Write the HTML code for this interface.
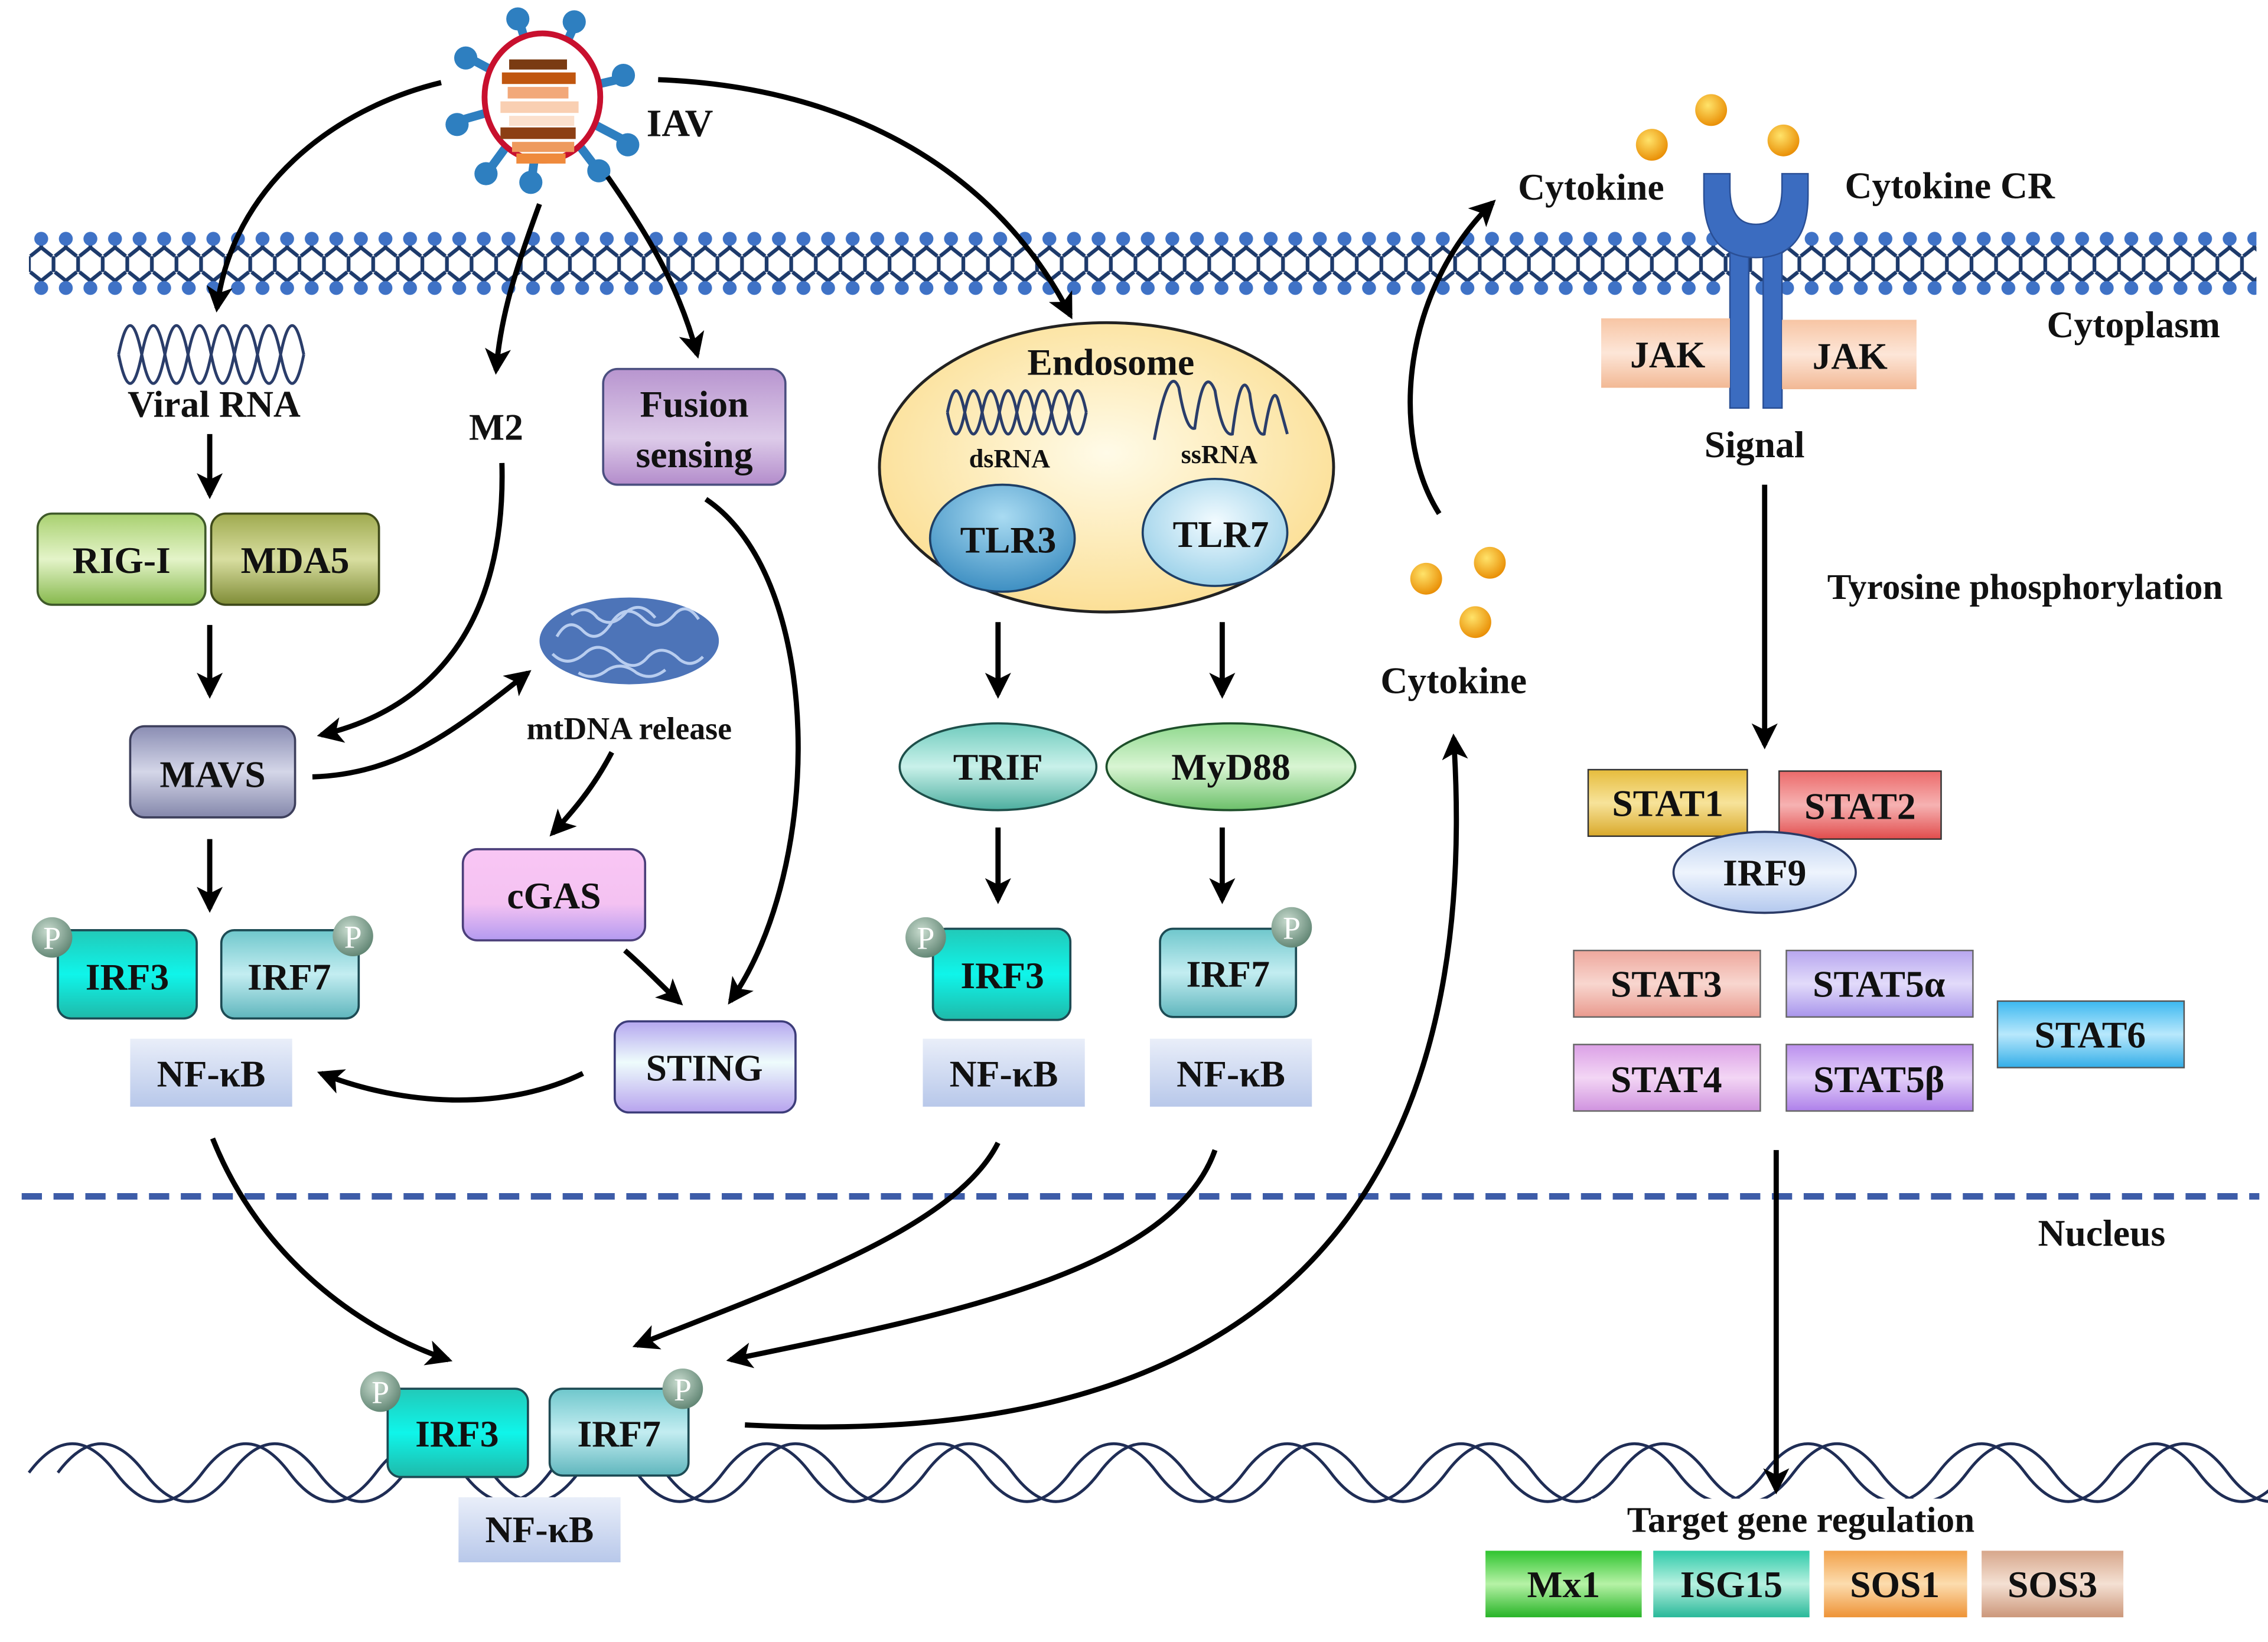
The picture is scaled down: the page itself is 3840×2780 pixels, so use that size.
<!DOCTYPE html>
<html><head><meta charset="utf-8"><style>
html,body{margin:0;padding:0;background:#fff;}
svg{display:block;}
text{font-family:"Liberation Serif",serif;font-weight:bold;fill:#111;text-anchor:middle;}
</style></head><body>
<svg width="3840" height="2780" viewBox="0 0 1568 1135" xmlns="http://www.w3.org/2000/svg">
<defs>
<marker id="ah" viewBox="0 0 12 12" refX="10" refY="6" markerWidth="5" markerHeight="5" orient="auto" markerUnits="strokeWidth">
<path d="M0,0 L12,6 L0,12 L3,6z" fill="#000"/></marker>
<pattern id="mem" x="20" y="158" width="17" height="50" patternUnits="userSpaceOnUse">
<g stroke="#1d3a6b" stroke-width="2.6" fill="none">
<path d="M8.5,8 V13 L1,19 M8.5,13 L16,19"/>
<path d="M8.5,42 V36 L1,30 M8.5,36 L16,30"/>
<path d="M0,19 V30 M17,19 V30"/>
</g>
<circle cx="8.5" cy="7" r="4.8" fill="#3f72c6"/>
<circle cx="8.5" cy="41" r="4.8" fill="#3f72c6"/>
</pattern>
<linearGradient id="gFus" x1="0" y1="0" x2="0" y2="1"><stop offset="0" stop-color="#b895cf"/><stop offset="0.6" stop-color="#ddcbe9"/><stop offset="1" stop-color="#b38ccb"/></linearGradient>
<linearGradient id="gRig" x1="0" y1="0" x2="0" y2="1"><stop offset="0" stop-color="#a8d06f"/><stop offset="0.5" stop-color="#e4f4c9"/><stop offset="1" stop-color="#86b84c"/></linearGradient>
<linearGradient id="gMda" x1="0" y1="0" x2="0" y2="1"><stop offset="0" stop-color="#9faa4f"/><stop offset="0.5" stop-color="#d8dea0"/><stop offset="1" stop-color="#7f8c36"/></linearGradient>
<linearGradient id="gMavs" x1="0" y1="0" x2="0" y2="1"><stop offset="0" stop-color="#8a8db3"/><stop offset="0.5" stop-color="#d4d6e8"/><stop offset="1" stop-color="#8487ab"/></linearGradient>
<linearGradient id="gCgas" x1="0" y1="0" x2="0" y2="1"><stop offset="0" stop-color="#f9c6f4"/><stop offset="0.6" stop-color="#f4c2f2"/><stop offset="1" stop-color="#b39af0"/></linearGradient>
<linearGradient id="gSting" x1="0" y1="0" x2="0" y2="1"><stop offset="0" stop-color="#b4a6ef"/><stop offset="0.45" stop-color="#eefcfc"/><stop offset="1" stop-color="#b7a3ee"/></linearGradient>
<linearGradient id="gIrf3" x1="0" y1="0" x2="0" y2="1"><stop offset="0" stop-color="#22c9b8"/><stop offset="0.5" stop-color="#0ff5ea"/><stop offset="1" stop-color="#1fb9a9"/></linearGradient>
<linearGradient id="gIrf7" x1="0" y1="0" x2="0" y2="1"><stop offset="0" stop-color="#6fc7cc"/><stop offset="0.5" stop-color="#c3edf1"/><stop offset="1" stop-color="#5fb6bd"/></linearGradient>
<linearGradient id="gNf" x1="0" y1="0" x2="0" y2="1"><stop offset="0" stop-color="#e9eef9"/><stop offset="1" stop-color="#b8c8ea"/></linearGradient>
<radialGradient id="gP" cx="0.4" cy="0.35" r="0.7"><stop offset="0" stop-color="#c9dccf"/><stop offset="1" stop-color="#5d8270"/></radialGradient>
<radialGradient id="gEndo" cx="0.5" cy="0.45" r="0.6"><stop offset="0" stop-color="#fffbe8"/><stop offset="1" stop-color="#fbdd8f"/></radialGradient>
<radialGradient id="gTlr3" cx="0.5" cy="0.3" r="0.7"><stop offset="0" stop-color="#a9dbf2"/><stop offset="1" stop-color="#3e8fc2"/></radialGradient>
<radialGradient id="gTlr7" cx="0.5" cy="0.4" r="0.7"><stop offset="0" stop-color="#f2fbff"/><stop offset="1" stop-color="#8fcbe6"/></radialGradient>
<linearGradient id="gTrif" x1="0" y1="0" x2="0" y2="1"><stop offset="0" stop-color="#6fcbbd"/><stop offset="0.5" stop-color="#c9f1ea"/><stop offset="1" stop-color="#4cae9f"/></linearGradient>
<linearGradient id="gMyd" x1="0" y1="0" x2="0" y2="1"><stop offset="0" stop-color="#8fd88d"/><stop offset="0.5" stop-color="#d9f5d3"/><stop offset="1" stop-color="#6cc06a"/></linearGradient>
<radialGradient id="gBall" cx="0.4" cy="0.35" r="0.7"><stop offset="0" stop-color="#ffe36a"/><stop offset="1" stop-color="#e88a00"/></radialGradient>
<linearGradient id="gJak" x1="0" y1="0" x2="0" y2="1"><stop offset="0" stop-color="#f7c5a4"/><stop offset="0.5" stop-color="#fde6d8"/><stop offset="1" stop-color="#f2b894"/></linearGradient>
<linearGradient id="gS1" x1="0" y1="0" x2="0" y2="1"><stop offset="0" stop-color="#e6bc3c"/><stop offset="0.5" stop-color="#f7e39a"/><stop offset="1" stop-color="#d9a92b"/></linearGradient>
<linearGradient id="gS2" x1="0" y1="0" x2="0" y2="1"><stop offset="0" stop-color="#ec6a6a"/><stop offset="0.5" stop-color="#f6b2b2"/><stop offset="1" stop-color="#e14c4c"/></linearGradient>
<linearGradient id="gIrf9" x1="0" y1="0" x2="0" y2="1"><stop offset="0" stop-color="#bcd0f0"/><stop offset="0.5" stop-color="#eef4fd"/><stop offset="1" stop-color="#b3c8ee"/></linearGradient>
<linearGradient id="gS3" x1="0" y1="0" x2="0" y2="1"><stop offset="0" stop-color="#eea79c"/><stop offset="0.5" stop-color="#f8d6cf"/><stop offset="1" stop-color="#e99a8e"/></linearGradient>
<linearGradient id="gS5a" x1="0" y1="0" x2="0" y2="1"><stop offset="0" stop-color="#b7a6ef"/><stop offset="0.5" stop-color="#e2dbfa"/><stop offset="1" stop-color="#a995eb"/></linearGradient>
<linearGradient id="gS6" x1="0" y1="0" x2="0" y2="1"><stop offset="0" stop-color="#3cb8f0"/><stop offset="0.5" stop-color="#b8e8fc"/><stop offset="1" stop-color="#33aee8"/></linearGradient>
<linearGradient id="gS4" x1="0" y1="0" x2="0" y2="1"><stop offset="0" stop-color="#dba0e6"/><stop offset="0.5" stop-color="#f3d6f5"/><stop offset="1" stop-color="#d093df"/></linearGradient>
<linearGradient id="gS5b" x1="0" y1="0" x2="0" y2="1"><stop offset="0" stop-color="#bb8fee"/><stop offset="0.5" stop-color="#e3d0f9"/><stop offset="1" stop-color="#ae80ea"/></linearGradient>
<linearGradient id="gMx" x1="0" y1="0" x2="0" y2="1"><stop offset="0" stop-color="#2fc42f"/><stop offset="0.5" stop-color="#b6f2a6"/><stop offset="1" stop-color="#27b427"/></linearGradient>
<linearGradient id="gIsg" x1="0" y1="0" x2="0" y2="1"><stop offset="0" stop-color="#2fcaa9"/><stop offset="0.5" stop-color="#b7f1e0"/><stop offset="1" stop-color="#28b899"/></linearGradient>
<linearGradient id="gSos1" x1="0" y1="0" x2="0" y2="1"><stop offset="0" stop-color="#f2a14a"/><stop offset="0.5" stop-color="#fcdcae"/><stop offset="1" stop-color="#ee9336"/></linearGradient>
<linearGradient id="gSos3" x1="0" y1="0" x2="0" y2="1"><stop offset="0" stop-color="#d7a78b"/><stop offset="0.5" stop-color="#f4e0d3"/><stop offset="1" stop-color="#cc977a"/></linearGradient>
</defs>

<rect x="20" y="158" width="1540" height="50" fill="url(#mem)"/>

<line x1="15" y1="827" x2="1562" y2="827" stroke="#3d5ca8" stroke-width="4.5" stroke-dasharray="14,8"/>

<g fill="none" stroke="#1f2d55" stroke-width="2">
<path d="M20,1018 q30,-40 60,0 t60,0 t60,0 t60,0 t60,0 t60,0 t60,0 t60,0 t60,0 t60,0 t60,0 t60,0 t60,0 t60,0 t60,0 t60,0 t60,0 t60,0 t60,0 t60,0 t60,0 t60,0 t60,0 t60,0 t60,0 t60,0"/>
<path d="M40,1018 q30,-40 60,0 t60,0 t60,0 t60,0 t60,0 t60,0 t60,0 t60,0 t60,0 t60,0 t60,0 t60,0 t60,0 t60,0 t60,0 t60,0 t60,0 t60,0 t60,0 t60,0 t60,0 t60,0 t60,0 t60,0 t60,0 t60,0"/>
</g>

<g>
<g stroke="#2e7fc0" stroke-width="6" stroke-linecap="round">
<line x1="375" y1="67" x2="360" y2="18"/><line x1="375" y1="67" x2="396" y2="20"/>
<line x1="375" y1="67" x2="328" y2="42"/><line x1="375" y1="67" x2="427" y2="55"/>
<line x1="375" y1="67" x2="322" y2="82"/><line x1="375" y1="67" x2="430" y2="96"/>
<line x1="375" y1="67" x2="340" y2="115"/><line x1="375" y1="67" x2="368" y2="121"/>
<line x1="375" y1="67" x2="410" y2="113"/>
</g>
<g fill="#2e7fc0">
<circle cx="358" cy="13" r="8"/><circle cx="397" cy="15" r="8"/><circle cx="322" cy="40" r="8"/><circle cx="431" cy="52" r="8"/>
<circle cx="316" cy="86" r="8"/><circle cx="434" cy="100" r="8"/><circle cx="336" cy="120" r="8"/><circle cx="367" cy="126" r="8"/><circle cx="414" cy="118" r="8"/>
</g>
<ellipse cx="375" cy="67" rx="40" ry="44" fill="#fff" stroke="#c8102e" stroke-width="4"/>
<rect x="352" y="41" width="40" height="7" fill="#7a3b12"/>
<rect x="347" y="50" width="51" height="8" fill="#c0560f"/>
<rect x="351" y="60" width="42" height="8" fill="#f2a879"/>
<rect x="346" y="70" width="54" height="8" fill="#f9cfb2"/>
<rect x="352" y="80" width="45" height="7" fill="#fbe0cd"/>
<rect x="346" y="88" width="52" height="8" fill="#8c3f14"/>
<rect x="354" y="98" width="43" height="7" fill="#ee9a5e"/>
<rect x="357" y="106" width="34" height="7" fill="#ef8a3c"/>
</g>
<text x="470" y="94" font-size="27">IAV</text>

<g fill="none" stroke="#000" stroke-width="3.6" marker-end="url(#ah)">
<path d="M305,57 C230,75 160,130 150,213"/>
<path d="M373,141 C355,190 346,220 343,256"/>
<path d="M420,122 C450,165 470,200 482,245"/>
<path d="M455,55 C590,60 690,120 740,218"/>
<path d="M145,300 V342"/>
<path d="M145,432 V480"/>
<path d="M347,320 C350,430 300,490 222,508"/>
<path d="M216,537 C280,535 320,500 365,465"/>
<path d="M423,520 C410,545 395,562 382,576"/>
<path d="M488,345 C570,400 570,600 505,692"/>
<path d="M432,657 C447,670 458,682 470,693"/>
<path d="M403,742 C350,768 280,765 222,742"/>
<path d="M145,580 V628"/>
<path d="M147,787 C180,870 250,920 310,940"/>
<path d="M690,430 V480"/>
<path d="M690,572 V622"/>
<path d="M845,430 V480"/>
<path d="M845,572 V622"/>
<path d="M690,790 C660,850 540,890 440,930"/>
<path d="M840,795 C810,880 650,910 505,940"/>
<path d="M515,985 C800,1000 1030,900 1005,510"/>
<path d="M995,355 C960,300 970,200 1032,140"/>
<path d="M1220,335 V515"/>
<path d="M1228,795 V1030"/>
</g>

<g fill="none" stroke="#2a3d6a" stroke-width="2">
<path d="M82,245 q8,-40 16,0 t16,0 t16,0 t16,0 t16,0 t16,0 t16,0 t16,0"/>
<path d="M82,245 q8,40 16,0 t16,0 t16,0 t16,0 t16,0 t16,0 t16,0 t16,0"/>
</g>
<text x="148" y="288" font-size="26">Viral RNA</text>
<text x="343" y="304" font-size="26">M2</text>

<rect x="417" y="255" width="126" height="80" rx="10" fill="url(#gFus)" stroke="#4b4f80" stroke-width="1.5"/>
<text x="480" y="288" font-size="26">Fusion</text>
<text x="480" y="323" font-size="26">sensing</text>

<rect x="26" y="355" width="116" height="63" rx="10" fill="url(#gRig)" stroke="#3f5a2a" stroke-width="1.5"/>
<text x="84" y="396" font-size="26">RIG-I</text>
<rect x="146" y="355" width="116" height="63" rx="10" fill="url(#gMda)" stroke="#3f4a1a" stroke-width="1.5"/>
<text x="204" y="396" font-size="26">MDA5</text>

<rect x="90" y="502" width="114" height="63" rx="10" fill="url(#gMavs)" stroke="#3d3f5c" stroke-width="1.5"/>
<text x="147" y="544" font-size="26">MAVS</text>

<g>
<ellipse cx="435" cy="443" rx="62" ry="30" fill="#4d74b8"/>
<g fill="none" stroke="#b8cdef" stroke-width="2">
<path d="M385,440 q8,-14 18,-4 q10,10 20,-6 q10,-14 22,-2 q10,10 22,-4 q8,-8 16,4"/>
<path d="M382,452 q10,10 22,0 q10,-10 22,2 q12,12 22,0 q10,-10 22,2 q8,6 16,-2"/>
<path d="M395,425 q10,-8 18,2 q10,8 20,-4 q10,-8 20,4"/>
<path d="M400,465 q10,6 20,-2 q10,-6 20,2 q10,6 20,-2"/>
</g>
</g>
<text x="435" y="511" font-size="22">mtDNA release</text>

<rect x="320" y="587" width="126" height="63" rx="10" fill="url(#gCgas)" stroke="#4b3f7a" stroke-width="1.5"/>
<text x="383" y="628" font-size="26">cGAS</text>
<rect x="425" y="706" width="125" height="63" rx="10" fill="url(#gSting)" stroke="#3d3d7a" stroke-width="1.5"/>
<text x="487" y="747" font-size="26">STING</text>

<rect x="40" y="643" width="96" height="61" rx="9" fill="url(#gIrf3)" stroke="#1d4b54" stroke-width="1.5"/>
<text x="88" y="684" font-size="26">IRF3</text>
<circle cx="36" cy="648" r="14" fill="url(#gP)"/><text x="36" y="656" font-size="22" style="fill:#fff;font-weight:normal">P</text>
<rect x="153" y="643" width="95" height="61" rx="9" fill="url(#gIrf7)" stroke="#1d4b54" stroke-width="1.5"/>
<text x="200" y="684" font-size="26">IRF7</text>
<circle cx="244" cy="647" r="14" fill="url(#gP)"/><text x="244" y="655" font-size="22" style="fill:#fff;font-weight:normal">P</text>
<rect x="90" y="718" width="112" height="47" fill="url(#gNf)"/>
<text x="146" y="751" font-size="26">NF-κB</text>

<ellipse cx="765" cy="323" rx="157" ry="100" fill="url(#gEndo)" stroke="#222" stroke-width="2"/>
<text x="768" y="259" font-size="26">Endosome</text>
<g fill="none" stroke="#2a3d6a" stroke-width="2">
<path d="M655,285 q6,-30 12,0 t12,0 t12,0 t12,0 t12,0 t12,0 t12,0 t12,0"/>
<path d="M655,285 q6,30 12,0 t12,0 t12,0 t12,0 t12,0 t12,0 t12,0 t12,0"/>
<path d="M798,304 Q808,250 815,268 Q820,298 826,296 Q832,250 840,270 Q845,302 852,300 Q858,252 864,272 Q868,302 874,300 Q880,262 884,278 L890,300"/>
</g>
<text x="698" y="323" font-size="18">dsRNA</text>
<text x="843" y="320" font-size="18">ssRNA</text>
<ellipse cx="693" cy="372" rx="50" ry="37" fill="url(#gTlr3)" stroke="#1e3f66" stroke-width="1.5"/>
<text x="697" y="382" font-size="26">TLR3</text>
<ellipse cx="840" cy="368" rx="50" ry="37" fill="url(#gTlr7)" stroke="#1e3f66" stroke-width="1.5"/>
<text x="844" y="378" font-size="26">TLR7</text>

<ellipse cx="690" cy="530" rx="68" ry="30" fill="url(#gTrif)" stroke="#1e4f4a" stroke-width="1.5"/>
<text x="690" y="539" font-size="26">TRIF</text>
<ellipse cx="851" cy="530" rx="86" ry="30" fill="url(#gMyd)" stroke="#1e4f2a" stroke-width="1.5"/>
<text x="851" y="539" font-size="26">MyD88</text>

<rect x="645" y="642" width="95" height="63" rx="9" fill="url(#gIrf3)" stroke="#1d4b54" stroke-width="1.5"/>
<text x="693" y="683" font-size="26">IRF3</text>
<circle cx="640" cy="648" r="14" fill="url(#gP)"/><text x="640" y="656" font-size="22" style="fill:#fff;font-weight:normal">P</text>
<rect x="802" y="642" width="94" height="61" rx="9" fill="url(#gIrf7)" stroke="#1d4b54" stroke-width="1.5"/>
<text x="849" y="682" font-size="26">IRF7</text>
<circle cx="893" cy="641" r="14" fill="url(#gP)"/><text x="893" y="649" font-size="22" style="fill:#fff;font-weight:normal">P</text>
<rect x="638" y="718" width="112" height="47" fill="url(#gNf)"/>
<text x="694" y="751" font-size="26">NF-κB</text>
<rect x="795" y="718" width="112" height="47" fill="url(#gNf)"/>
<text x="851" y="751" font-size="26">NF-κB</text>

<circle cx="986" cy="400" r="11" fill="url(#gBall)"/>
<circle cx="1030" cy="389" r="11" fill="url(#gBall)"/>
<circle cx="1020" cy="430" r="11" fill="url(#gBall)"/>
<text x="1005" y="479" font-size="26">Cytokine</text>
<circle cx="1142" cy="100" r="11" fill="url(#gBall)"/>
<circle cx="1183" cy="76" r="11" fill="url(#gBall)"/>
<circle cx="1233" cy="97" r="11" fill="url(#gBall)"/>
<text x="1100" y="138" font-size="26">Cytokine</text>
<text x="1348" y="137" font-size="26">Cytokine CR</text>

<rect x="1196" y="165" width="13" height="117" fill="#3b6cc0" stroke="#2a4f95" stroke-width="1"/>
<rect x="1219" y="165" width="13" height="117" fill="#3b6cc0" stroke="#2a4f95" stroke-width="1"/>
<path d="M1178,120 L1196,120 L1196,130 Q1196,155 1214,155 Q1232,155 1232,130 L1232,120 L1250,120 L1250,135 Q1250,178 1214,178 Q1178,178 1178,135Z" fill="#3b6cc0" stroke="#2a4f95" stroke-width="1"/>
<rect x="1107" y="220" width="89" height="48" fill="url(#gJak)"/>
<text x="1153" y="254" font-size="26">JAK</text>
<rect x="1232" y="221" width="93" height="48" fill="url(#gJak)"/>
<text x="1279" y="255" font-size="26">JAK</text>
<text x="1475" y="233" font-size="26">Cytoplasm</text>
<text x="1213" y="316" font-size="26">Signal</text>
<text x="1400" y="414" font-size="25">Tyrosine phosphorylation</text>

<rect x="1098" y="532" width="110" height="46" fill="url(#gS1)" stroke="#333" stroke-width="1"/>
<text x="1153" y="564" font-size="26">STAT1</text>
<rect x="1230" y="533" width="112" height="47" fill="url(#gS2)" stroke="#333" stroke-width="1"/>
<text x="1286" y="566" font-size="26">STAT2</text>
<ellipse cx="1220" cy="603" rx="63" ry="28" fill="url(#gIrf9)" stroke="#2a3a66" stroke-width="1.5"/>
<text x="1220" y="612" font-size="26">IRF9</text>
<rect x="1088" y="657" width="129" height="46" fill="url(#gS3)" stroke="#666" stroke-width="1"/>
<text x="1152" y="689" font-size="26">STAT3</text>
<rect x="1235" y="657" width="129" height="46" fill="url(#gS5a)" stroke="#666" stroke-width="1"/>
<text x="1299" y="689" font-size="26">STAT5α</text>
<rect x="1381" y="692" width="129" height="46" fill="url(#gS6)" stroke="#555" stroke-width="1"/>
<text x="1445" y="724" font-size="26">STAT6</text>
<rect x="1088" y="722" width="129" height="46" fill="url(#gS4)" stroke="#666" stroke-width="1"/>
<text x="1152" y="755" font-size="26">STAT4</text>
<rect x="1235" y="722" width="129" height="46" fill="url(#gS5b)" stroke="#666" stroke-width="1"/>
<text x="1299" y="755" font-size="26">STAT5β</text>

<text x="1453" y="861" font-size="26">Nucleus</text>

<rect x="268" y="960" width="97" height="61" rx="9" fill="url(#gIrf3)" stroke="#1d4b54" stroke-width="1.5"/>
<text x="316" y="1000" font-size="26">IRF3</text>
<circle cx="263" cy="962" r="14" fill="url(#gP)"/><text x="263" y="970" font-size="22" style="fill:#fff;font-weight:normal">P</text>
<rect x="380" y="960" width="96" height="60" rx="9" fill="url(#gIrf7)" stroke="#1d4b54" stroke-width="1.5"/>
<text x="428" y="1000" font-size="26">IRF7</text>
<circle cx="472" cy="960" r="14" fill="url(#gP)"/><text x="472" y="968" font-size="22" style="fill:#fff;font-weight:normal">P</text>
<rect x="317" y="1035" width="112" height="45" fill="url(#gNf)"/>
<text x="373" y="1066" font-size="26">NF-κB</text>

<rect x="1100" y="1036" width="290" height="30" fill="#fff"/>
<text x="1245" y="1059" font-size="25">Target gene regulation</text>
<rect x="1027" y="1072" width="108" height="46" fill="url(#gMx)"/>
<text x="1081" y="1104" font-size="26">Mx1</text>
<rect x="1143" y="1072" width="108" height="46" fill="url(#gIsg)"/>
<text x="1197" y="1104" font-size="26">ISG15</text>
<rect x="1261" y="1072" width="99" height="46" fill="url(#gSos1)"/>
<text x="1310" y="1104" font-size="26">SOS1</text>
<rect x="1370" y="1072" width="98" height="46" fill="url(#gSos3)"/>
<text x="1419" y="1104" font-size="26">SOS3</text>
</svg>
</body></html>
